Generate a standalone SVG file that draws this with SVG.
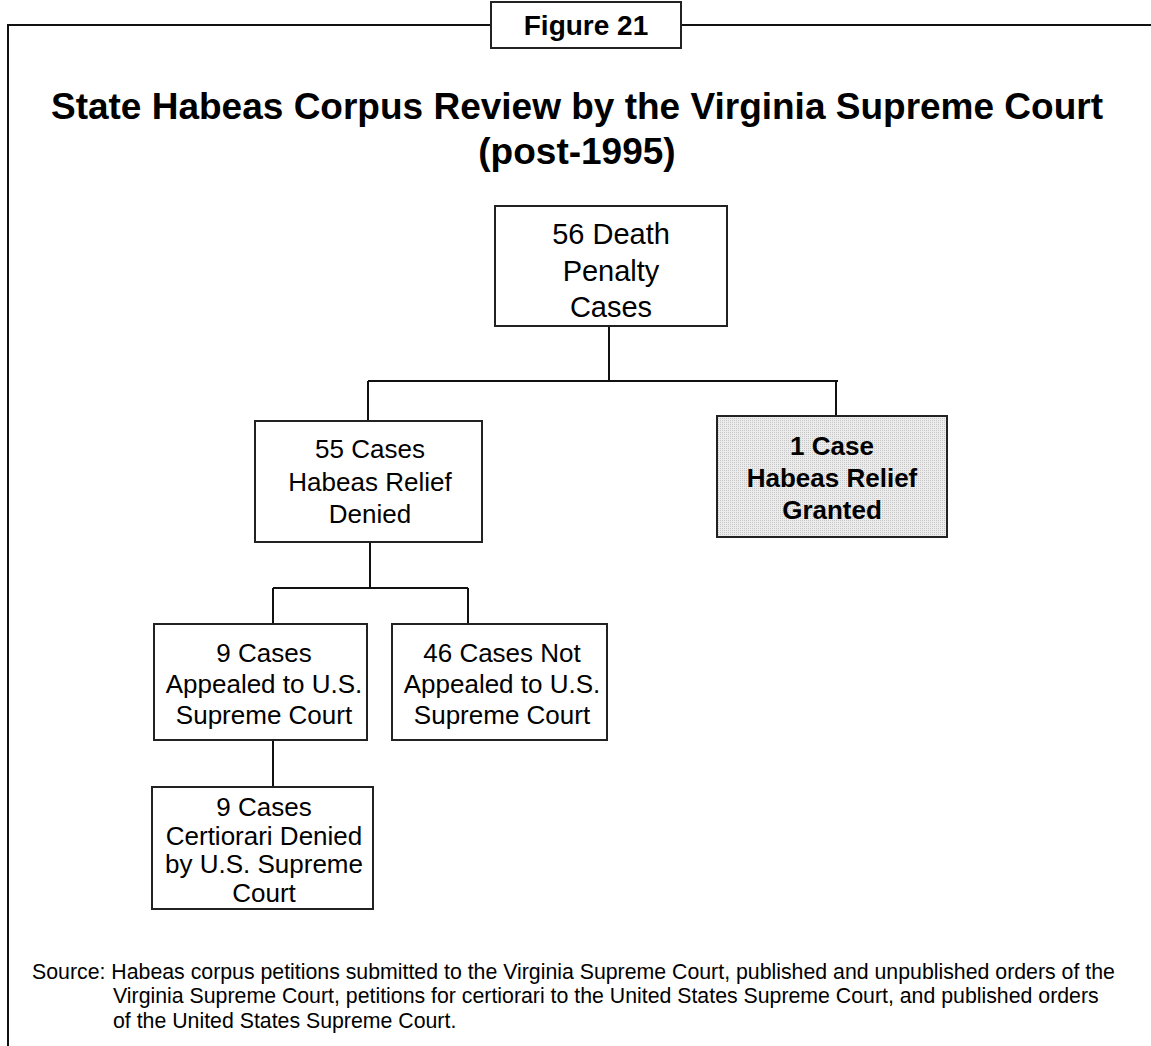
<svg xmlns="http://www.w3.org/2000/svg" width="1151" height="1046" viewBox="0 0 1151 1046">
<style>
  .frame { fill: none; stroke: #111; stroke-width: 2; }
  .box { fill: #fff; stroke: #222; stroke-width: 2; }
  .shaded { fill: url(#stipple); stroke: #222; stroke-width: 2; }
  .conn { fill: none; stroke: #111; stroke-width: 2; }
  text { font-family: "Liberation Sans", Arial, sans-serif; fill: #000; text-anchor: middle; }
  .fig { font-size: 28px; font-weight: bold; }
  .title { font-size: 37px; font-weight: bold; }
  .n1 { font-size: 29px; }
  .n { font-size: 26px; }
  .nb { font-size: 26px; font-weight: bold; }
  .src { font-size: 21.3px; text-anchor: start; }
</style>
<defs>
  <pattern id="stipple" width="2" height="2" patternUnits="userSpaceOnUse">
    <rect width="2" height="2" fill="#ececec"/>
    <rect width="1" height="1" fill="#c6c6c6"/>
  </pattern>
</defs>
<rect width="1151" height="1046" fill="#fff"/>
<rect class="frame" x="8" y="25" width="1160" height="1040"/>
<g id="figure-label">
  <rect class="box" x="491" y="2" width="190" height="46"/>
  <text class="fig" x="586" y="35">Figure 21</text>
</g>
<g id="title">
  <text class="title" x="577" y="119">State Habeas Corpus Review by the Virginia Supreme Court</text>
  <text class="title" x="577" y="164">(post-1995)</text>
</g>
<g id="connectors">
  <path class="conn" d="M609 326 V381 M368 381 H838 M368 381 V421 M836 381 V416"/>
  <path class="conn" d="M370 542 V588 M273 588 H468 M273 588 V624 M468 588 V624"/>
  <path class="conn" d="M273 740 V787"/>
</g>
<g id="node-56">
  <rect class="box" x="495" y="206" width="232" height="120"/>
  <text class="n1" x="611" y="244">56 Death</text>
  <text class="n1" x="611" y="281">Penalty</text>
  <text class="n1" x="611" y="317">Cases</text>
</g>
<g id="node-55">
  <rect class="box" x="255" y="421" width="227" height="121"/>
  <text class="n" x="370" y="458">55 Cases</text>
  <text class="n" x="370" y="491">Habeas Relief</text>
  <text class="n" x="370" y="523">Denied</text>
</g>
<g id="node-1">
  <rect class="shaded" x="717" y="416" width="230" height="121"/>
  <text class="nb" x="832" y="455">1 Case</text>
  <text class="nb" x="832" y="487">Habeas Relief</text>
  <text class="nb" x="832" y="519">Granted</text>
</g>
<g id="node-9a">
  <rect class="box" x="154" y="624" width="213" height="116"/>
  <text class="n" x="264" y="662">9 Cases</text>
  <text class="n" x="264" y="693">Appealed to U.S.</text>
  <text class="n" x="264" y="724">Supreme Court</text>
</g>
<g id="node-46">
  <rect class="box" x="392" y="624" width="215" height="116"/>
  <text class="n" x="502" y="662">46 Cases Not</text>
  <text class="n" x="502" y="693">Appealed to U.S.</text>
  <text class="n" x="502" y="724">Supreme Court</text>
</g>
<g id="node-9b">
  <rect class="box" x="152" y="787" width="221" height="122"/>
  <text class="n" x="264" y="816">9 Cases</text>
  <text class="n" x="264" y="845">Certiorari Denied</text>
  <text class="n" x="264" y="873">by U.S. Supreme</text>
  <text class="n" x="264" y="902">Court</text>
</g>
<g id="source">
  <text class="src" x="32" y="979">Source: Habeas corpus petitions submitted to the Virginia Supreme Court, published and unpublished orders of the</text>
  <text class="src" x="113" y="1003">Virginia Supreme Court, petitions for certiorari to the United States Supreme Court, and published orders</text>
  <text class="src" x="113" y="1028">of the United States Supreme Court.</text>
</g>
</svg>
